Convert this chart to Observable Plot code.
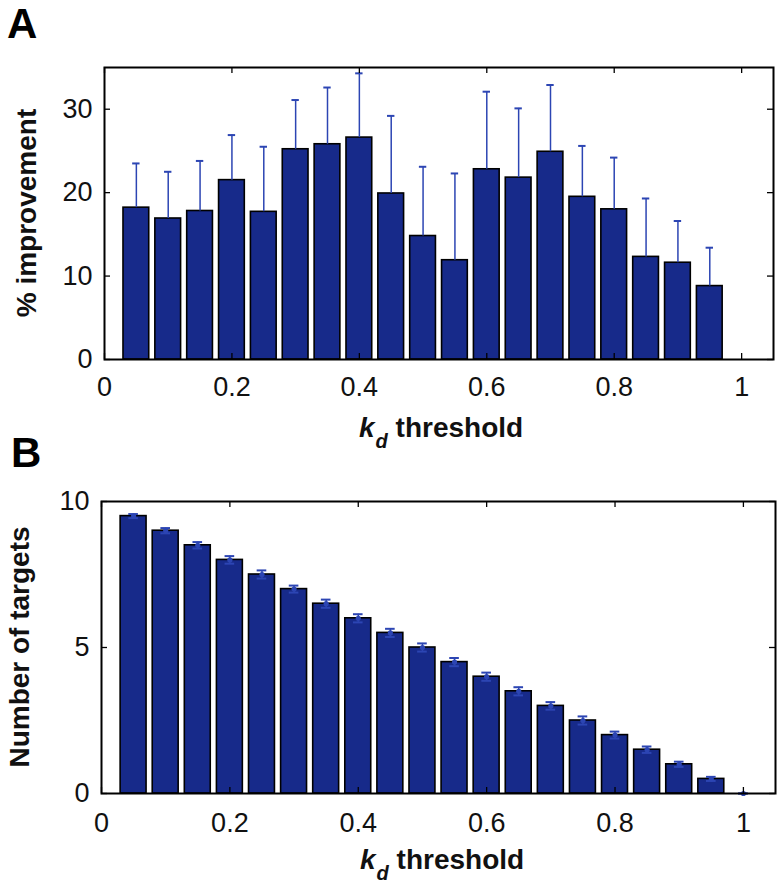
<!DOCTYPE html>
<html><head><meta charset="utf-8">
<script src="https://cdn.jsdelivr.net/npm/d3@7"></script>
<script src="https://cdn.jsdelivr.net/npm/@observablehq/plot@0.6"></script>
<style>
html,body{margin:0;padding:0;background:#fff;}
#fig{position:relative;width:784px;height:893px;background:#fff;}
#fig svg{position:absolute;left:0;overflow:visible;}
</style></head><body><div id="fig"></div>
<script>
// ---- data ----
const thresholdsA = [0.05,0.10,0.15,0.20,0.25,0.30,0.35,0.40,0.45,0.50,0.55,0.60,0.65,0.70,0.75,0.80,0.85,0.90,0.95];
const improvement = [18.2,16.9,17.8,21.5,17.7,25.2,25.8,26.6,19.9,14.8,11.9,22.8,21.8,24.9,19.5,18.0,12.3,11.6,8.8];
const improvementErr = [5.3,5.6,6.0,5.4,7.8,5.9,6.8,7.7,9.3,8.3,10.4,9.3,8.3,8.0,6.1,6.2,7.0,5.0,4.6];

const thresholdsB = [0.05,0.10,0.15,0.20,0.25,0.30,0.35,0.40,0.45,0.50,0.55,0.60,0.65,0.70,0.75,0.80,0.85,0.90,0.95,1.00];
const targets = [9.5,9.0,8.5,8.0,7.5,7.0,6.5,6.0,5.5,5.0,4.5,4.0,3.5,3.0,2.5,2.0,1.5,1.0,0.5,0];
const targetsErr = [0.07,0.09,0.11,0.13,0.14,0.12,0.14,0.14,0.14,0.14,0.14,0.14,0.14,0.13,0.14,0.12,0.11,0.09,0.07,0];

const xTicks = [0,0.2,0.4,0.6,0.8,1];
const xTickLabels = ["0","0.2","0.4","0.6","0.8","1"];
const yTicksA = [0,10,20,30];
const yTickLabelsA = ["0","10","20","30"];
const yTicksB = [0,5,10];
const yTickLabelsB = ["0","5","10"];
const panelLetters = ["A","B"];
const yLabels = ["% improvement","Number of targets"];
const xLabelVar = "k", xLabelSub = "d", xLabelRest = " threshold";

// ---- style ----
const FONT = "'Liberation Sans', Arial, Helvetica, sans-serif";
const BAR = "#172a8a";
const ERR = "#2c45b3";

const rowsA = thresholdsA.map((k,i)=>({k, v: improvement[i], e: improvementErr[i]}));
const rowsB = thresholdsB.map((k,i)=>({k, v: targets[i], e: targetsErr[i]}));

function panel({rows, yDomain, yTicks, yTickLabels, width, height, mL, mR, mT, mB, both, capHalf, labelPad}) {
  const fW = width - mL - mR, fH = height - mT - mB;
  const marks = [
    Plot.rectY(rows.filter(d => d.v > 0), {x1: d => d.k - 0.0202, x2: d => d.k + 0.0202, y1: 0, y2: "v", fill: BAR, stroke: "black", strokeWidth: 1.6}),
    Plot.ruleX(rows, {x: "k", y1: d => both ? d.v - d.e : d.v, y2: d => d.v + d.e, stroke: ERR, strokeWidth: 1.5}),
    Plot.ruleY(rows, {y: d => d.v + d.e, x1: d => d.k - capHalf, x2: d => d.k + capHalf, stroke: ERR, strokeWidth: 2})
  ];
  if (both) {
    marks.push(Plot.ruleY(rows, {y: d => d.v - d.e, x1: d => d.k - capHalf, x2: d => d.k + capHalf, stroke: ERR, strokeWidth: 2}));
    marks.push(Plot.dot(rows, {x: "k", y: "v", r: 2.6, fill: ERR, stroke: "none"}));
  }
  marks.push(
    Plot.tickX(xTicks, {x: d => d, insetTop: fH - 6, stroke: "black", strokeWidth: 1.3}),
    Plot.tickX(xTicks, {x: d => d, insetBottom: fH - 6, stroke: "black", strokeWidth: 1.3}),
    Plot.tickY(yTicks, {y: d => d, insetRight: fW - 6, stroke: "black", strokeWidth: 1.3}),
    Plot.tickY(yTicks, {y: d => d, insetLeft: fW - 6, stroke: "black", strokeWidth: 1.3}),
    Plot.axisX({ticks: xTicks, tickFormat: d => xTickLabels[xTicks.indexOf(d)], tickSize: 0, tickPadding: labelPad, label: null, fill: "#111", fontSize: 27}),
    Plot.axisY({ticks: yTicks, tickFormat: d => yTickLabels[yTicks.indexOf(d)], tickSize: 0, tickPadding: 12, label: null, fill: "#111", fontSize: 27}),
    Plot.frame({stroke: "black", strokeWidth: 2})
  );
  return Plot.plot({
    width, height, marginLeft: mL, marginRight: mR, marginTop: mT, marginBottom: mB,
    x: {domain: [0, 1.05]},
    y: {domain: yDomain},
    style: {fontFamily: FONT, fontSize: "27px", background: "transparent", overflow: "visible", color: "#111"},
    marks
  });
}

const fig = d3.select("#fig");

function addLabels(svg, {letterX, letterY, yLabelX, yLabelY, kX, kY, idx}) {
  const s = d3.select(svg);
  s.append("text").attr("x", letterX).attr("y", letterY).attr("text-anchor", "start")
    .attr("font-family", FONT).attr("font-size", 42).attr("font-weight", "bold").attr("fill", "#000")
    .text(panelLetters[idx]);
  s.append("text").attr("transform", `translate(${yLabelX},${yLabelY}) rotate(-90)`)
    .attr("text-anchor", "middle").attr("dy", "0.32em")
    .attr("font-family", FONT).attr("font-size", 28).attr("font-weight", "bold").attr("fill", "#111")
    .text(yLabels[idx]);
  const t = s.append("text").attr("x", kX).attr("y", kY).attr("text-anchor", "start")
    .attr("font-family", FONT).attr("font-size", 28).attr("font-weight", "bold").attr("fill", "#111");
  t.append("tspan").attr("font-style", "italic").text(xLabelVar);
  t.append("tspan").attr("font-style", "italic").attr("font-size", 20).attr("dx", 1).attr("dy", 11).text(xLabelSub);
  t.append("tspan").attr("dy", -11).text(xLabelRest);
}

const svgA = panel({rows: rowsA, yDomain: [0, 35], yTicks: yTicksA, yTickLabels: yTickLabelsA,
  width: 784, height: 446, mL: 104, mR: 11, mT: 67, mB: 87, both: false, capHalf: 0.0058, labelPad: 17});
svgA.style.top = "0px";
addLabels(svgA, {letterX: 7, letterY: 38, yLabelX: 27, yLabelY: 213, kX: 359, kY: 437, idx: 0});

const svgB = panel({rows: rowsB, yDomain: [0, 10], yTicks: yTicksB, yTickLabels: yTickLabelsB,
  width: 784, height: 447, mL: 101, mR: 9, mT: 55, mB: 100, both: true, capHalf: 0.0075, labelPad: 19});
svgB.style.top = "446px";
addLabels(svgB, {letterX: 11, letterY: 21, yLabelX: 20, yLabelY: 201, kX: 360, kY: 423, idx: 1});

fig.node().appendChild(svgA);
fig.node().appendChild(svgB);
</script>
</body></html>
